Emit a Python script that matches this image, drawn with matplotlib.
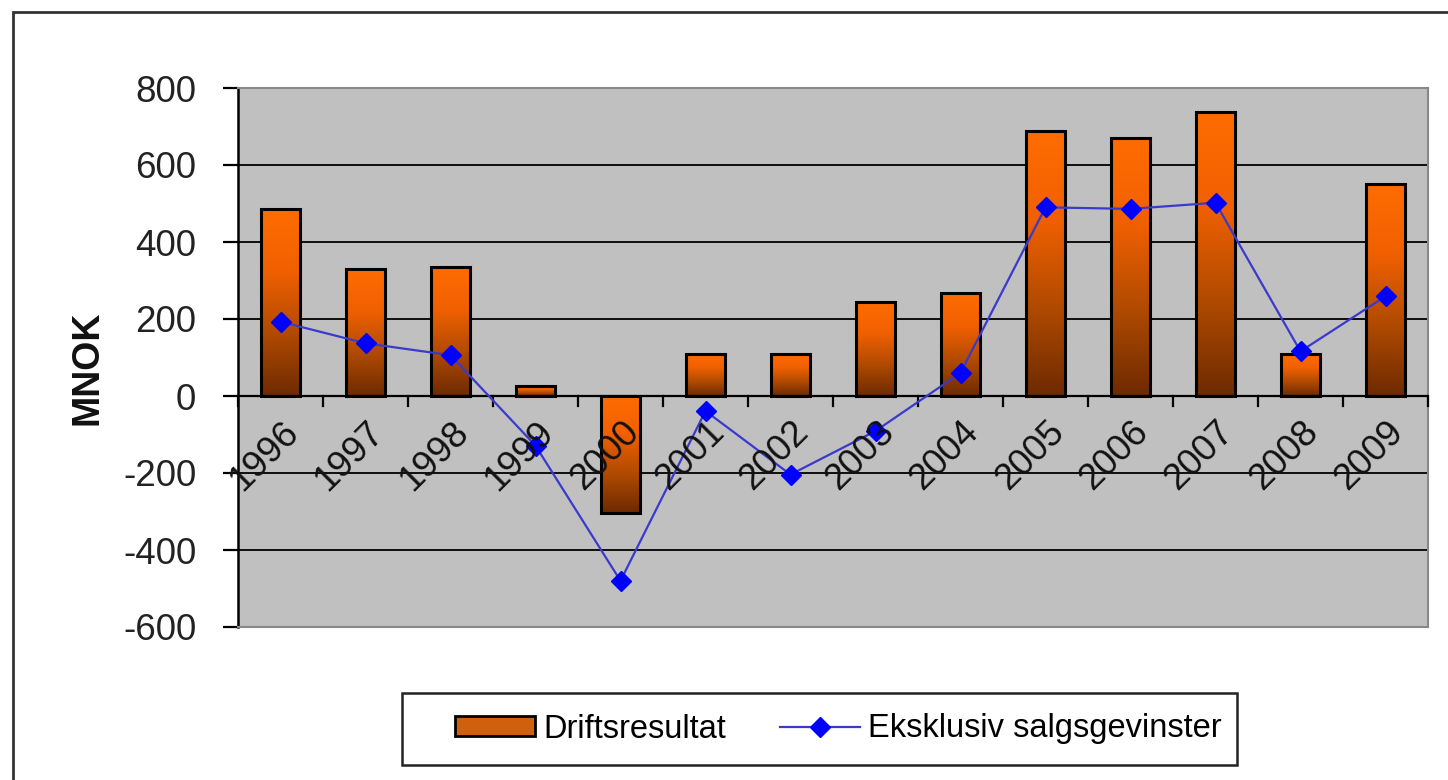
import numpy as np
import matplotlib
matplotlib.use("Agg")
import matplotlib.pyplot as plt
from matplotlib.colors import LinearSegmentedColormap
from matplotlib.patches import Patch, Rectangle
from matplotlib.lines import Line2D
import matplotlib.transforms as mtransforms

plt.rcParams['font.family'] = ['Liberation Sans', 'DejaVu Sans']

# data
years = ['1996', '1997', '1998', '1999', '2000', '2001', '2002',
         '2003', '2004', '2005', '2006', '2007', '2008', '2009']
driftsresultat = [485, 330, 335, 25, -305, 110, 110, 243, 268, 688, 670, 737, 109, 551]
eksklusiv = [193, 137, 106, -129, -480, -39, -204, -91, 60, 490, 486, 502, 116, 259]
yticks = [-600, -400, -200, 0, 200, 400, 600, 800]

fig = plt.figure(figsize=(14.48, 7.8), dpi=100)
ax = fig.add_axes([238/1448, 1-627/780, (1428-238)/1448, (627-88)/780])
ax.set_facecolor('#C0C0C0')

x = np.arange(len(years))

# gradient bars: orange top -> dark brown bottom
cmap = LinearSegmentedColormap.from_list('bar', ['#6E2A00', '#B04A00', '#F06000', '#FF6C00'])
grad = np.linspace(0, 1, 256).reshape(-1, 1)
bars = ax.bar(x, driftsresultat, width=0.45, facecolor='none', edgecolor='black',
              linewidth=2.2, zorder=3)
for b in bars:
    bx, by, bw, bh = b.get_x(), b.get_y(), b.get_width(), b.get_height()
    lo, hi = min(by, by + bh), max(by, by + bh)
    im = ax.imshow(grad, cmap=cmap, origin='lower', aspect='auto',
                   extent=[bx, bx + bw, lo, hi], zorder=2.5, interpolation='bilinear')
    im.set_clip_path(b)

ax.plot(x, eksklusiv, color='#3A3ACC', linewidth=1.6, zorder=4)
ax.plot(x, eksklusiv, linestyle='none', marker='D', markersize=10.5,
        color='#0000FF', zorder=5)

ax.set_xlim(-0.5, len(years) - 0.5)
ax.set_ylim(-600, 800)

# grid
for v in yticks[1:-1]:
    ax.axhline(v, color='black', linewidth=1.3, zorder=1)
ax.axhline(0, color='black', linewidth=1.6, zorder=3.5)

# x axis at zero with ticks between categories
ax.set_xticks([])
for k in range(len(years) + 1):
    ax.plot([k - 0.5, k - 0.5], [0, -26], color='black', linewidth=1.6,
            zorder=3.5, clip_on=False)

off = mtransforms.offset_copy(ax.transData, fig=fig, x=13, y=-31, units='dots')
for xi, lab in zip(x, years):
    ax.text(xi, 0, lab, transform=off, rotation=45, rotation_mode='anchor',
            ha='right', va='center', fontsize=26.5, color='#111111', zorder=6)

ax.set_yticks(yticks)
ax.set_yticklabels([str(v) for v in yticks])
ax.tick_params(axis='y', direction='out', length=11, width=1.6, pad=19,
               labelsize=26.5, colors='black', labelcolor='#222222')

for s in ['top', 'right', 'bottom']:
    ax.spines[s].set_color('#888888')
    ax.spines[s].set_linewidth(1.5)
ax.spines['left'].set_color('black')
ax.spines['left'].set_linewidth(1.8)

fig.text(88/1448, 1-368/780, 'MNOK', rotation=90, ha='center', va='center',
         fontsize=27, fontweight='bold', color='#111111')

# legend (frame drawn separately)
h_bar = Patch(facecolor='#D0600E', edgecolor='black', linewidth=2)
h_line = Line2D([], [], color='#3A3ACC', linewidth=1.6, marker='D',
                markersize=10, markerfacecolor='#0000FF', markeredgecolor='#0000FF')
leg = fig.legend([h_bar, h_line], ['Driftsresultat', 'Eksklusiv salgsgevinster'],
                 loc='center left', bbox_to_anchor=(455/1448, 1-729/780), ncol=2,
                 fontsize=23.5, frameon=False, handlelength=2.45,
                 handleheight=0.55, handletextpad=0.25, columnspacing=1.65,
                 borderpad=0, borderaxespad=0)
fig.patches.append(Rectangle((402/1448, 1-765/780), (1237-402)/1448, (765-693)/780,
                             fill=False, edgecolor='#222222', linewidth=1.8,
                             transform=fig.transFigure, figure=fig))

# outer chart border
fig.patches.append(Rectangle((13/1448, -0.2), 1.5, 1 - 12/780 + 0.2, fill=False,
                             edgecolor='#333333', linewidth=2,
                             transform=fig.transFigure, figure=fig))

fig.savefig('out.png', dpi=100, facecolor='white')
